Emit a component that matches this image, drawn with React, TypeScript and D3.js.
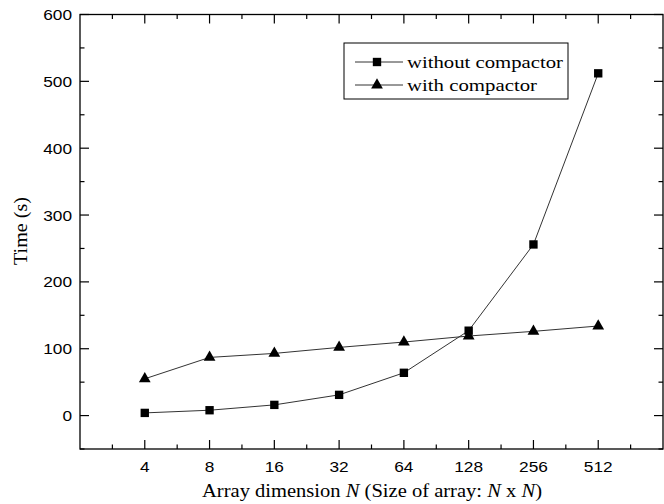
import React, { useRef, useEffect } from 'react';
import * as d3 from 'd3';

const categories = ['4', '8', '16', '32', '64', '128', '256', '512'];
const withoutCompactor = [4, 8, 16, 31, 64, 127, 256, 512];
const withCompactor = [55, 87, 93, 102, 110, 119, 126, 134];
const yTicks = [0, 100, 200, 300, 400, 500, 600];

const App = () => {
  const svgRef = useRef<SVGSVGElement>(null);

  useEffect(() => {
    const svg = d3.select(svgRef.current);
    const left = 80, right = 663, top = 14.5, bottom = 449;
    const sans = 'Liberation Sans, Arial, sans-serif';
    const serif = 'Liberation Serif, Times New Roman, serif';

    svg.selectAll('*').remove();

    // the source picture is a bit wider than tall, so texts get stretched
    const stretch = (sel: any, factor: number) => {
      sel.each(function (this: SVGTextElement) {
        const len = this.getComputedTextLength();
        d3.select(this).attr('textLength', len * factor).attr('lengthAdjust', 'spacingAndGlyphs');
      });
    };

    const x = d3.scaleLinear().domain([0, categories.length + 1]).range([left, right]);
    const y = d3.scaleLinear().domain([-50, 600]).range([bottom, top]);

    const g = svg.append('g');

    // frame
    g.append('rect')
      .attr('x', left).attr('y', top)
      .attr('width', right - left).attr('height', bottom - top)
      .attr('fill', 'none').attr('stroke', '#000').attr('stroke-width', 1.3);

    // x ticks (inward, mirrored on top)
    const xMajor = categories.map((_, i) => i + 1);
    const xMinor = d3.range(0.5, categories.length + 1, 1);
    xMajor.forEach(v => {
      g.append('line').attr('x1', x(v)).attr('x2', x(v)).attr('y1', bottom).attr('y2', bottom - 9).attr('stroke', '#000').attr('stroke-width', 1.2);
      g.append('line').attr('x1', x(v)).attr('x2', x(v)).attr('y1', top).attr('y2', top + 9).attr('stroke', '#000').attr('stroke-width', 1.2);
    });
    xMinor.forEach(v => {
      g.append('line').attr('x1', x(v)).attr('x2', x(v)).attr('y1', bottom).attr('y2', bottom - 4.5).attr('stroke', '#000').attr('stroke-width', 1.2);
      g.append('line').attr('x1', x(v)).attr('x2', x(v)).attr('y1', top).attr('y2', top + 4.5).attr('stroke', '#000').attr('stroke-width', 1.2);
    });
    const xl = g.selectAll('.xlab')
      .data(categories)
      .enter()
      .append('text')
      .attr('x', (d, i) => x(i + 1))
      .attr('y', 472)
      .attr('text-anchor', 'middle')
      .style('font-family', sans)
      .style('font-size', '15px')
      .text(d => d);
    stretch(xl, 1.15);

    // y ticks (inward, mirrored on right)
    yTicks.forEach(v => {
      g.append('line').attr('x1', left).attr('x2', left + 9).attr('y1', y(v)).attr('y2', y(v)).attr('stroke', '#000').attr('stroke-width', 1.2);
      g.append('line').attr('x1', right).attr('x2', right - 9).attr('y1', y(v)).attr('y2', y(v)).attr('stroke', '#000').attr('stroke-width', 1.2);
    });
    d3.range(-50, 600, 100).forEach(v => {
      g.append('line').attr('x1', left).attr('x2', left + 4.5).attr('y1', y(v)).attr('y2', y(v)).attr('stroke', '#000').attr('stroke-width', 1.2);
      g.append('line').attr('x1', right).attr('x2', right - 4.5).attr('y1', y(v)).attr('y2', y(v)).attr('stroke', '#000').attr('stroke-width', 1.2);
    });
    const yl = g.selectAll('.ylab')
      .data(yTicks)
      .enter()
      .append('text')
      .attr('x', 72)
      .attr('y', d => y(d) + 5.5)
      .attr('text-anchor', 'end')
      .style('font-family', sans)
      .style('font-size', '15px')
      .text(d => d);
    stretch(yl, 1.15);

    // axis titles
    g.append('text')
      .attr('transform', `translate(27, 231) rotate(-90)`)
      .attr('text-anchor', 'middle')
      .attr('textLength', 68)
      .attr('lengthAdjust', 'spacingAndGlyphs')
      .style('font-family', serif)
      .style('font-size', '19px')
      .text('Time (s)');

    const xt = g.append('text')
      .attr('x', 202)
      .attr('y', 497)
      .style('font-family', serif)
      .style('font-size', '18px');
    xt.append('tspan').text('Array dimension ');
    xt.append('tspan').style('font-style', 'italic').text('N');
    xt.append('tspan').text(' (Size of array: ');
    xt.append('tspan').style('font-style', 'italic').text('N');
    xt.append('tspan').text(' x ');
    xt.append('tspan').style('font-style', 'italic').text('N');
    xt.append('tspan').text(')');
    xt.attr('textLength', 340).attr('lengthAdjust', 'spacingAndGlyphs');

    // series
    const line = d3.line<number>()
      .x((d, i) => x(i + 1))
      .y(d => y(d));

    g.append('path').datum(withoutCompactor).attr('d', line).attr('fill', 'none').attr('stroke', '#333').attr('stroke-width', 1);
    g.append('path').datum(withCompactor).attr('d', line).attr('fill', 'none').attr('stroke', '#333').attr('stroke-width', 1);

    const square = d3.symbol().type(d3.symbolSquare).size(70);
    const triangle = d3.symbol().type(d3.symbolTriangle).size(60);

    g.selectAll('.sq')
      .data(withoutCompactor)
      .enter()
      .append('path')
      .attr('d', square)
      .attr('transform', (d, i) => `translate(${x(i + 1)}, ${y(d)})`)
      .attr('fill', '#000');

    g.selectAll('.tri')
      .data(withCompactor)
      .enter()
      .append('path')
      .attr('d', triangle)
      .attr('transform', (d, i) => `translate(${x(i + 1)}, ${y(d)})`)
      .attr('fill', '#000');

    // legend
    g.append('rect')
      .attr('x', 344).attr('y', 43).attr('width', 224).attr('height', 56)
      .attr('fill', '#fff').attr('stroke', '#000').attr('stroke-width', 1);
    const legend = [
      { label: 'without compactor', sym: square, yy: 62, w: 156 },
      { label: 'with compactor', sym: triangle, yy: 85, w: 130 },
    ];
    legend.forEach(l => {
      g.append('line').attr('x1', 355).attr('x2', 403).attr('y1', l.yy).attr('y2', l.yy).attr('stroke', '#333').attr('stroke-width', 1);
      g.append('path').attr('d', l.sym).attr('transform', `translate(377, ${l.yy})`).attr('fill', '#000');
      g.append('text')
        .attr('x', 407)
        .attr('y', l.yy + 5.5)
        .attr('textLength', l.w)
        .attr('lengthAdjust', 'spacingAndGlyphs')
        .style('font-family', serif)
        .style('font-size', '17.5px')
        .text(l.label);
    });
  }, []);

  return (
    <div style={{ position: 'fixed', left: 0, top: 0 }}>
      <svg ref={svgRef} width={664} height={504} style={{ display: 'block', background: '#fff' }}></svg>
    </div>
  );
};

export default App;
